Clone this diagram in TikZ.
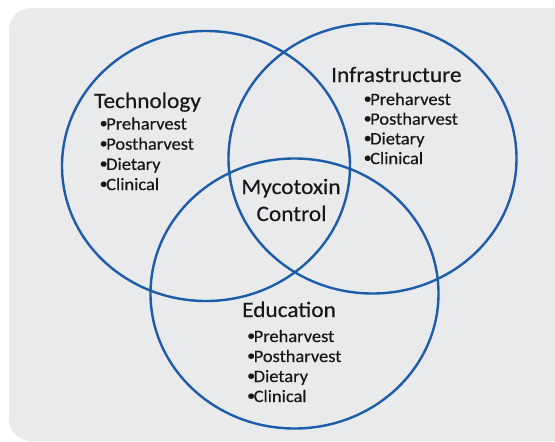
\documentclass[tikz,border=0pt]{standalone}
\usepackage{fontspec}
\setmainfont{Carlito}[FakeStretch=1.06,FakeBold=0.4]
\usetikzlibrary{shapes.geometric}
\definecolor{bggray}{RGB}{233,234,236}
\definecolor{ringblue}{RGB}{28,92,168}
\definecolor{txt}{RGB}{24,24,24}
\tikzset{
  ring/.style={ellipse, draw=ringblue, line width=2.4pt, inner sep=0pt,
    minimum width=288pt, minimum height=270pt},
  title/.style={anchor=base west, inner sep=0pt, text=txt, font=\fontsize{22}{26}\selectfont},
  ctitle/.style={anchor=base, inner sep=0pt, text=txt, font=\fontsize{22}{26}\selectfont},
  item/.style={anchor=base west, inner sep=0pt, text=txt, font=\fontsize{17.4}{20}\selectfont},
}
\newcommand{\bul}{\raisebox{1.6pt}{\fontsize{15}{15}\selectfont•}\kern-1.4pt}
\begin{document}
\begin{tikzpicture}[x=1pt,y=-1pt]
\useasboundingbox (0,0) rectangle (555,442);
\clip (0,0) rectangle (555,442);
\fill[white] (0,0) rectangle (555,442);
\fill[bggray, rounded corners=22pt] (9,8) rectangle (580,441);
% circles
\node[ring] (tech) at (206,166) {};
\node[ring] (infra) at (372.5,158.5) {};
\node[ring] (edu) at (294.5,293.5) {};
% Technology
\node[title] (techT) at (94,108) {Technology};
\node[item] (t1) at (99.5,129.5) {\bul Preharvest};
\node[item] (t2) at (99.5,149.7) {\bul Postharvest};
\node[item] (t3) at (99.5,169.9) {\bul Dietary};
\node[item] (t4) at (99.5,190.1) {\bul Clinical};
% Infrastructure
\node[title] (infT) at (331,82) {Infrastructure};
\node[item] (i1) at (363.5,105) {\bul Preharvest};
\node[item] (i2) at (363.5,124.7) {\bul Postharvest};
\node[item] (i3) at (363.5,144.4) {\bul Dietary};
\node[item] (i4) at (363.5,164.1) {\bul Clinical};
% Centre
\node[ctitle] (myc1) at (291,194) {Mycotoxin};
\node[ctitle] (myc2) at (291.5,221) {Control};
% Education
\node[title] (eduT) at (242,317) {Education};
\node[item] (e1) at (247,342) {\bul Preharvest};
\node[item] (e2) at (247,362) {\bul Postharvest};
\node[item] (e3) at (247,382) {\bul Dietary};
\node[item] (e4) at (247,402) {\bul Clinical};
\end{tikzpicture}
\end{document}
